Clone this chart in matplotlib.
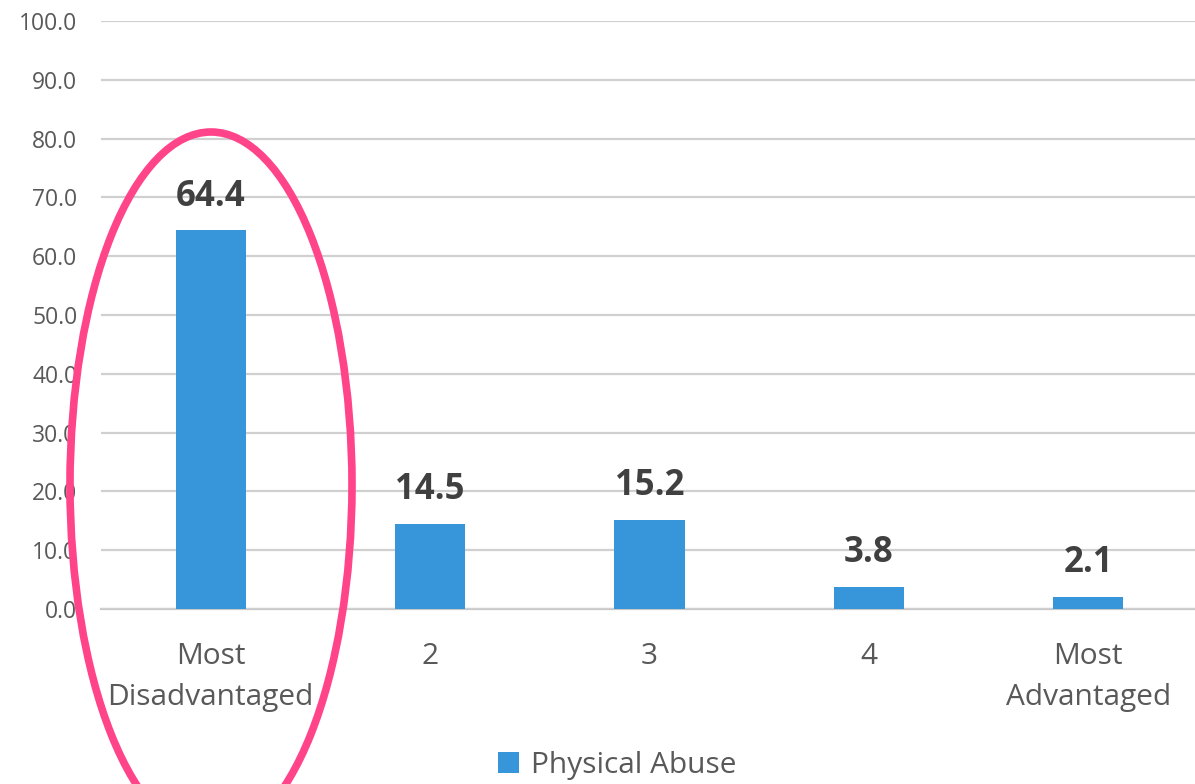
import matplotlib
matplotlib.use('Agg')
import matplotlib.pyplot as plt
from matplotlib.patches import Ellipse
import numpy as np

categories = ['Most\nDisadvantaged', '2', '3', '4', 'Most\nAdvantaged']
physical_abuse = [64.4, 14.5, 15.2, 3.8, 2.1]
y_ticks = [0, 10, 20, 30, 40, 50, 60, 70, 80, 90, 100]

plt.rcParams['font.family'] = ['Open Sans', 'DejaVu Sans']

bar_color = '#3796DA'
text_grey = '#595959'

fig = plt.figure(figsize=(11.95, 7.84), dpi=100)
ax = fig.add_axes([101 / 1195, 175 / 784, 1097 / 1195, 588 / 784])

x = np.arange(len(categories))
bars = ax.bar(x, physical_abuse, width=0.32, color=bar_color, label='Physical Abuse', zorder=3)

for rect, val in zip(bars, physical_abuse):
    ax.annotate('%.1f' % val, (rect.get_x() + rect.get_width() / 2, val),
                xytext=(0, 11), textcoords='offset points', ha='center', va='bottom',
                fontsize=25, fontweight='bold', color='#404040')

ax.set_xlim(-0.5, len(categories) - 0.5)
ax.set_ylim(0, 100)
ax.set_yticks(y_ticks)
ax.set_yticklabels(['%.1f' % t for t in y_ticks])
ax.set_xticks(x)
ax.set_xticklabels(categories, linespacing=1.55)

ax.grid(axis='y', color='#d0d0d0', linewidth=1.6, zorder=0)
for side in ['top', 'right', 'left']:
    ax.spines[side].set_visible(False)
ax.spines['bottom'].set_color('#c8c8c8')
ax.spines['bottom'].set_linewidth(1.6)
ax.spines['bottom'].set_zorder(1)

ax.tick_params(axis='y', length=0, pad=17, labelsize=16.5, labelcolor=text_grey)
ax.tick_params(axis='x', length=0, pad=24, labelsize=21.5, labelcolor=text_grey)

leg = ax.legend(loc='center', bbox_to_anchor=(617 / 1195, (784 - 765) / 784),
                bbox_transform=fig.transFigure, ncol=1, frameon=False,
                fontsize=21.5, handlelength=0.7, handleheight=0.7, handletextpad=0.4,
                borderpad=0, borderaxespad=0)
for t in leg.get_texts():
    t.set_color(text_grey)

# highlight ellipse round the first bar (figure pixel coordinates)
ell = Ellipse((211 / 1195, (784 - 485) / 784), 282 / 1195, 706 / 784,
              transform=fig.transFigure, fill=False, edgecolor='#FF4489',
              linewidth=5.5, zorder=10)
fig.patches.append(ell)

fig.savefig('out.png', dpi=100)
